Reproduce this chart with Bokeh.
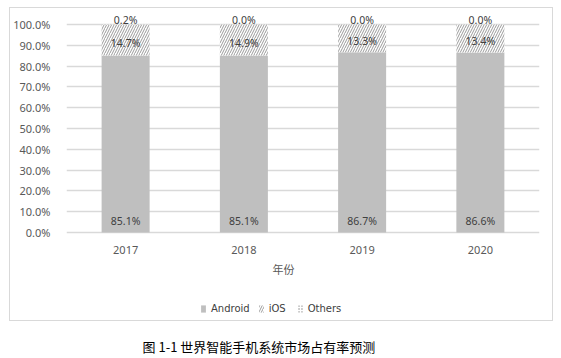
from bokeh.plotting import figure
from bokeh.models import (ColumnDataSource, FixedTicker, NumeralTickFormatter,
                          Legend, LegendItem, Div, FactorRange, Range1d, Spacer, Label)
from bokeh.layouts import column, row
from bokeh.embed import file_html
from bokeh.resources import INLINE
from bokeh.core.properties import value

# ---- data ----
years = ["2017", "2018", "2019", "2020"]
android = [0.851, 0.851, 0.867, 0.866]
ios = [0.147, 0.149, 0.133, 0.134]
others = [0.002, 0.000, 0.000, 0.000]
series_names = ["Android", "iOS", "Others"]
y_ticks = [0.0, 0.1, 0.2, 0.3, 0.4, 0.5, 0.6, 0.7, 0.8, 0.9, 1.0]
x_title = "年份"
caption = "图 1-1 世界智能手机系统市场占有率预测"

ios_mid = [a + i / 2 for a, i in zip(android, ios)]
total = [a + i + o for a, i, o in zip(android, ios, others)]
base = [0.0] * len(years)

src = ColumnDataSource(dict(
    years=years, android=android, ios=ios, others=others,
    base=base, ios_mid=ios_mid, total=total,
    android_lbl=["%.1f%%" % (v * 100) for v in android],
    ios_lbl=["%.1f%%" % (v * 100) for v in ios],
    others_lbl=["%.1f%%" % (v * 100) for v in others],
))

# frame: 208 px per 100 %, extended below 0 to host category labels and legend
p = figure(x_range=FactorRange(*years, range_padding=0),
           y_range=Range1d(-0.423, 1.0577),
           width=544, height=314, output_backend="svg", toolbar_location=None,
           x_axis_location=None,
           min_border_left=56, min_border_right=15, min_border_top=4,
           min_border_bottom=2)
p.outline_line_color = None
p.background_fill_color = "white"
p.border_fill_color = "white"
p.styles = {"border": "1px solid #d9d9d9"}

rs = p.vbar_stack(["android", "ios", "others"], x="years", width=0.406, source=src,
                  fill_color=["#bfbfbf", "white", "white"],
                  line_color=[None, None, None],
                  hatch_pattern=[" ", "/", "."],
                  hatch_color=["#bfbfbf", "#808080", "#808080"],
                  hatch_scale=[4, 5, 3],
                  hatch_weight=[0.6, 0.8, 0.8])

lbl_font = value("Noto Sans")
p.text(x="years", y="base", text="android_lbl", source=src, text_align="center",
       text_baseline="middle", y_offset=-12, text_font=lbl_font,
       text_font_size="10.5px", text_color="#404040")
p.text(x="years", y="ios_mid", text="ios_lbl", source=src, text_align="center",
       text_baseline="middle", y_offset=3, text_font=lbl_font,
       text_font_size="10.5px", text_color="#404040")
p.text(x="years", y="total", text="others_lbl", source=src, text_align="center",
       text_baseline="middle", y_offset=-5, text_font=lbl_font,
       text_font_size="10.5px", text_color="#404040")

# category (x) labels under the 0 % line
p.text(x="years", y="base", text="years", source=src, text_align="center",
       text_baseline="middle", y_offset=17, text_font=lbl_font,
       text_font_size="11px", text_color="#595959")

# x axis title
p.add_layout(Label(x=217, y=52, x_units="screen", y_units="screen", text=x_title,
                   text_align="center", text_baseline="middle",
                   text_font="Noto Sans CJK SC", text_font_size="11px",
                   text_color="#595959"))

# y axis
p.yaxis.ticker = FixedTicker(ticks=y_ticks)
p.yaxis.formatter = NumeralTickFormatter(format="0.0%")
p.yaxis.axis_line_color = None
p.yaxis.major_tick_line_color = None
p.yaxis.minor_tick_line_color = None
p.yaxis.major_label_standoff = 10
p.yaxis.major_label_text_font = "Noto Sans"
p.yaxis.major_label_text_font_size = "11px"
p.yaxis.major_label_text_color = "#595959"

p.xgrid.grid_line_color = None
p.ygrid.ticker = FixedTicker(ticks=y_ticks)
p.ygrid.grid_line_color = "#d9d9d9"
p.ygrid.grid_line_width = 1.5

legend = Legend(items=[LegendItem(label=n, renderers=[r]) for n, r in zip(series_names, rs)],
                orientation="horizontal", location=(134, 6),
                glyph_width=6, glyph_height=9, label_standoff=5, spacing=8,
                padding=2, margin=0,
                label_text_font="DejaVu Sans", label_text_font_size="10px",
                label_text_color="#404040",
                border_line_color=None, background_fill_alpha=0)
p.add_layout(legend, "center")

cap = Div(text=caption, width=508, height=37,
          styles={"text-align": "center", "font-family": "'Noto Sans CJK SC'",
                  "font-size": "13px", "font-weight": "normal", "color": "#000000",
                  "padding-top": "12px", "width": "508px"})

layout = column(Spacer(height=7), row(Spacer(width=9), p), cap)
open("out.html", "w").write(file_html(layout, INLINE))
